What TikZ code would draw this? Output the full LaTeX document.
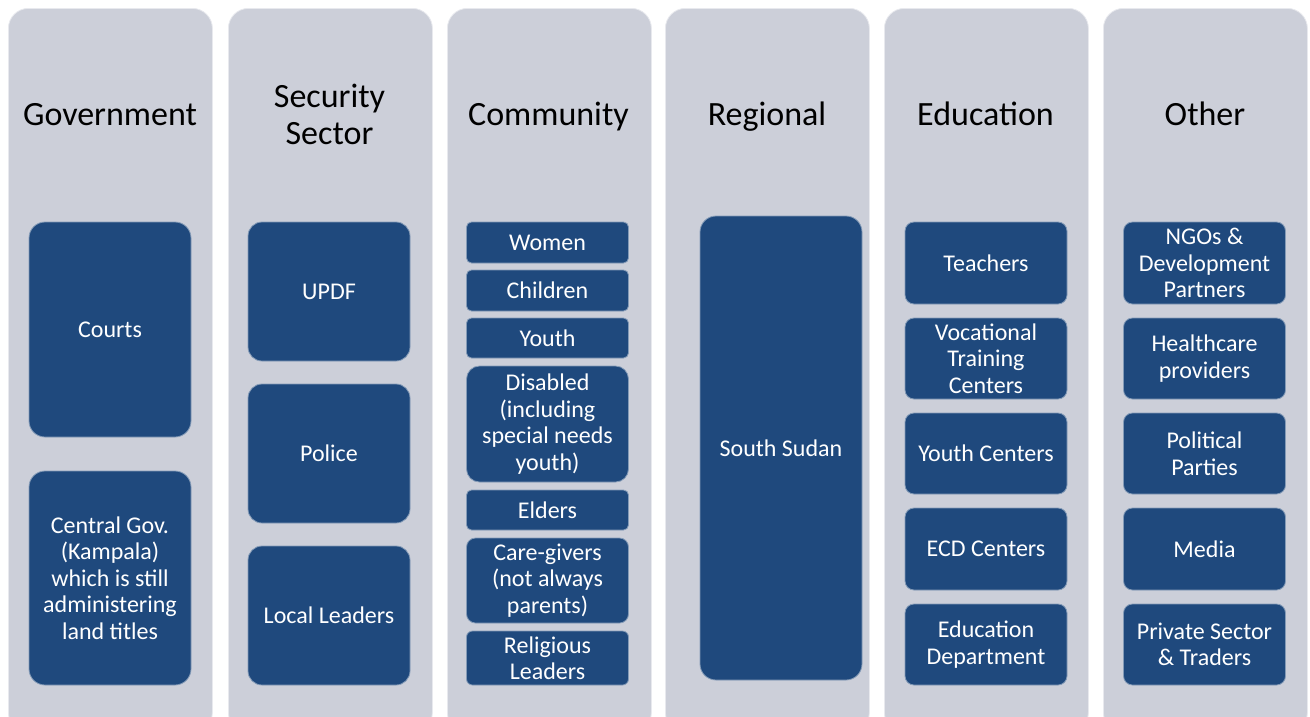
\documentclass[tikz,border=0pt]{standalone}
\usepackage{fontspec}
\setmainfont{Carlito}
\usepackage{tikz}

\definecolor{colgray}{RGB}{204,207,217}
\definecolor{boxblue}{RGB}{31,73,125}

\begin{document}
\begin{tikzpicture}[x=1pt, y=-1pt,
    column/.style={fill=colgray, draw=white!55!colgray, line width=0.8pt,
        rounded corners=20pt, minimum width=204, minimum height=724,
        anchor=north west, inner sep=0pt},
    heading/.style={align=center, text=black, inner sep=0pt,
        font=\fontsize{34}{37}\selectfont},
    item/.style={fill=boxblue, draw=white!45!boxblue, line width=0.8pt,
        text=white, align=center, inner sep=0pt, minimum width=162,
        font=\fontsize{24}{26.5}\selectfont}]
    \useasboundingbox (0,0) rectangle (1310,716);
    \clip (0,0) rectangle (1310,716);

    % Draw columns
    \node[column] (govcol) at (8,8) {};
    \node[column] (seccol) at (228,8) {};
    \node[column] (comcol) at (447,8) {};
    \node[column] (regcol) at (665,8) {};
    \node[column] (educol) at (884,8) {};
    \node[column] (othcol) at (1103,8) {};

    \node[heading, anchor=base] (govtitle) at (110,125) {Government};
    \node[heading] (sectitle) at (329.5,114) {Security\\Sector};
    \node[heading, anchor=base] (comtitle) at (548.5,125) {Community};
    \node[heading, anchor=base] (regtitle) at (767,125) {Regional};
    \node[heading, anchor=base] (edutitle) at (985.5,125) {Education};
    \node[heading, anchor=base] (othtitle) at (1205,125) {Other};

    % Government
    \node[item, minimum height=215, rounded corners=16pt] (courts) at (110,329.5) {Courts};
    \node[item, minimum height=214, rounded corners=16pt] (centralgov) at (110,578)
        {Central Gov.\\(Kampala)\\which is still\\administering\\land titles};

    % Security sector
    \node[item, minimum height=139, rounded corners=14pt] (updf) at (329,291.5) {UPDF};
    \node[item, minimum height=139, rounded corners=14pt] (police) at (329,453.5) {Police};
    \node[item, minimum height=139, rounded corners=14pt] (localleaders) at (329,615.5) {Local Leaders};

    % Community
    \node[item, minimum height=41, rounded corners=5pt] (women) at (547.5,242.5) {Women};
    \node[item, minimum height=41, rounded corners=5pt] (children) at (547.5,290.5) {Children};
    \node[item, minimum height=40, rounded corners=5pt] (youth) at (547.5,338) {Youth};
    \node[item, minimum height=116, rounded corners=13pt] (disabled) at (547.5,424)
        {Disabled\\(including\\special needs\\youth)};
    \node[item, minimum height=40, rounded corners=5pt] (elders) at (547.5,510) {Elders};
    \node[item, minimum height=85, rounded corners=9pt] (caregivers) at (547.5,580.5)
        {Care-givers\\(not always\\parents)};
    \node[item, minimum height=54, rounded corners=6pt] (religious) at (547.5,658) {Religious\\Leaders};

    % Regional
    \node[item, minimum height=464, rounded corners=16pt] (southsudan) at (781,448) {South Sudan};

    % Education
    \node[item, minimum height=82, rounded corners=9pt] (teachers) at (986,263) {Teachers};
    \node[item, minimum height=81, rounded corners=9pt] (vocational) at (986,358.5)
        {Vocational\\Training\\Centers};
    \node[item, minimum height=81, rounded corners=9pt] (youthcenters) at (986,453.5) {Youth Centers};
    \node[item, minimum height=82, rounded corners=9pt] (ecd) at (986,549) {ECD Centers};
    \node[item, minimum height=81, rounded corners=9pt] (edudept) at (986,644.5) {Education\\Department};

    % Other
    \node[item, minimum height=82, rounded corners=9pt] (ngos) at (1204.5,263)
        {NGOs \&\\Development\\Partners};
    \node[item, minimum height=81, rounded corners=9pt] (healthcare) at (1204.5,358.5) {Healthcare\\providers};
    \node[item, minimum height=81, rounded corners=9pt] (political) at (1204.5,453.5) {Political\\Parties};
    \node[item, minimum height=82, rounded corners=9pt] (media) at (1204.5,549) {Media};
    \node[item, minimum height=81, rounded corners=9pt] (private) at (1204.5,644.5)
        {Private Sector\\\& Traders};
\end{tikzpicture}
\end{document}
